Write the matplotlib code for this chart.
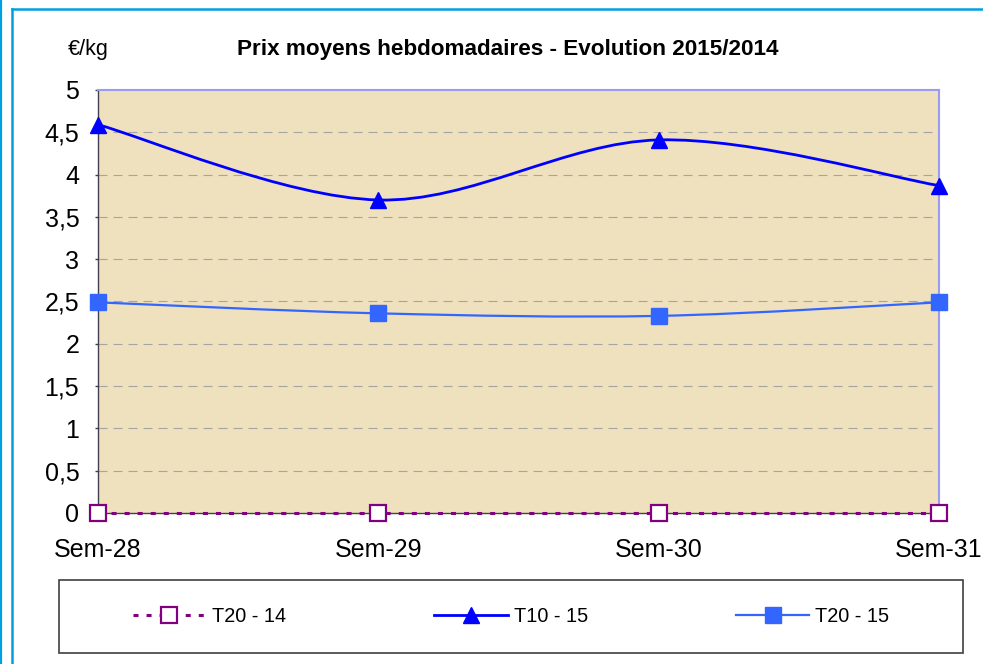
import numpy as np
import matplotlib.pyplot as plt
from matplotlib.path import Path
from matplotlib.patches import PathPatch, Rectangle
from matplotlib.lines import Line2D

plt.rcParams['font.family'] = ['Liberation Sans', 'DejaVu Sans']
plt.rcParams['lines.scale_dashes'] = False

# Data
weeks = ['Sem-28', 'Sem-29', 'Sem-30', 'Sem-31']
t20_14 = [0, 0, 0, 0]
t10_15 = [4.59, 3.70, 4.41, 3.87]
t20_15 = [2.49, 2.36, 2.33, 2.49]
yticks = [0, 0.5, 1, 1.5, 2, 2.5, 3, 3.5, 4, 4.5, 5]


def smooth_path(xs, ys):
    # Excel-like smoothed line: cubic Bezier through the points
    pts = np.column_stack([xs, ys]).astype(float)
    n = len(pts)
    verts = [pts[0]]
    codes = [Path.MOVETO]
    for i in range(n - 1):
        p0 = pts[i - 1] if i > 0 else pts[i]
        p1 = pts[i]
        p2 = pts[i + 1]
        p3 = pts[i + 2] if i + 2 < n else pts[i + 1]
        c1 = p1 + (p2 - p0) / 6
        c2 = p2 - (p3 - p1) / 6
        verts += [c1, c2, p2]
        codes += [Path.CURVE4] * 3
    return Path(verts, codes)


W, H = 983, 664
fig = plt.figure(figsize=(W / 100, H / 100), dpi=100)
ax = fig.add_axes([98 / W, 1 - 513 / H, (939 - 98) / W, (513 - 90) / H])
ax.set_facecolor('#EFE1BD')

x = np.arange(len(weeks))

# gridlines
for v in yticks[1:-1]:
    ax.axhline(v, color='#A4A4A4', lw=0.8, linestyle=(0, (6.5, 4.3)), zorder=1)

# T20 - 14
ax.plot(x, t20_14, color='#800080', lw=2.2, linestyle=(0, (3.6, 5.8)),
        marker='s', markersize=11, markerfacecolor='white',
        markeredgecolor='#800080', markeredgewidth=1.6, clip_on=False, zorder=5)

# T10 - 15
ax.add_patch(PathPatch(smooth_path(x, t10_15), fill=False, edgecolor='#0000FF',
                       lw=2.0, zorder=4, clip_on=False))
ax.plot(x, t10_15, linestyle='none', marker='^', markersize=12,
        color='#0000FF', clip_on=False, zorder=6)

# T20 - 15
ax.add_patch(PathPatch(smooth_path(x, t20_15), fill=False, edgecolor='#3366FF',
                       lw=1.6, zorder=4, clip_on=False))
ax.plot(x, t20_15, linestyle='none', marker='s', markersize=11.5,
        color='#3366FF', clip_on=False, zorder=6)

ax.set_xlim(0, 3)
ax.set_ylim(0, 5)
ax.set_xticks(x)
ax.set_xticklabels(weeks, fontsize=18)
ax.set_yticks(yticks)
ax.set_yticklabels([('%g' % v).replace('.', ',') for v in yticks], fontsize=18)
ax.tick_params(axis='x', length=0, pad=18)
ax.tick_params(axis='y', length=2.5, width=1, color='#404040', pad=11)

for s in ['left', 'bottom']:
    ax.spines[s].set_color('#404050')
    ax.spines[s].set_linewidth(1.0)
for s in ['top', 'right']:
    ax.spines[s].set_color('#9C9CEE')
    ax.spines[s].set_linewidth(1.5)

fig.text(508 / W, 1 - 50 / H, 'Prix moyens hebdomadaires - Evolution 2015/2014',
         ha='center', va='center', fontsize=16.2, fontweight='bold')
fig.text(68 / W, 1 - 50 / H, '€/kg', ha='left', va='center', fontsize=15.5)

# legend
fig.patches.append(Rectangle((59 / W, 1 - 653 / H), (963 - 59) / W, (653 - 580) / H,
                             transform=fig.transFigure, facecolor='white',
                             edgecolor='#404040', lw=1.2))
handles = [
    Line2D([], [], color='#800080', lw=2.2, linestyle=(0, (3.6, 5.8)), marker='s',
           markersize=11, markerfacecolor='white', markeredgecolor='#800080',
           markeredgewidth=1.6),
    Line2D([], [], color='#0000FF', lw=2.0, marker='^', markersize=12),
    Line2D([], [], color='#3366FF', lw=1.6, marker='s', markersize=11.5),
]
fig.legend(handles, ['T20 - 14', 'T10 - 15', 'T20 - 15'], loc='center',
           bbox_to_anchor=(511 / W, 1 - 616 / H), ncol=3, frameon=False,
           fontsize=14.3, handlelength=3.7, handletextpad=0.3, columnspacing=7.45)

# blue page frame
blue = '#00A0E0'
fig.add_artist(Line2D([1 / W, 1 / W], [0, 1], color=blue, lw=1.6,
                      transform=fig.transFigure))
fig.add_artist(Line2D([12 / W, 12 / W], [0, 1 - 9 / H], color=blue, lw=1.8,
                      transform=fig.transFigure))
fig.add_artist(Line2D([12 / W, 1], [1 - 9 / H, 1 - 9 / H], color=blue, lw=1.8,
                      transform=fig.transFigure))

fig.savefig('out.png', dpi=100)
